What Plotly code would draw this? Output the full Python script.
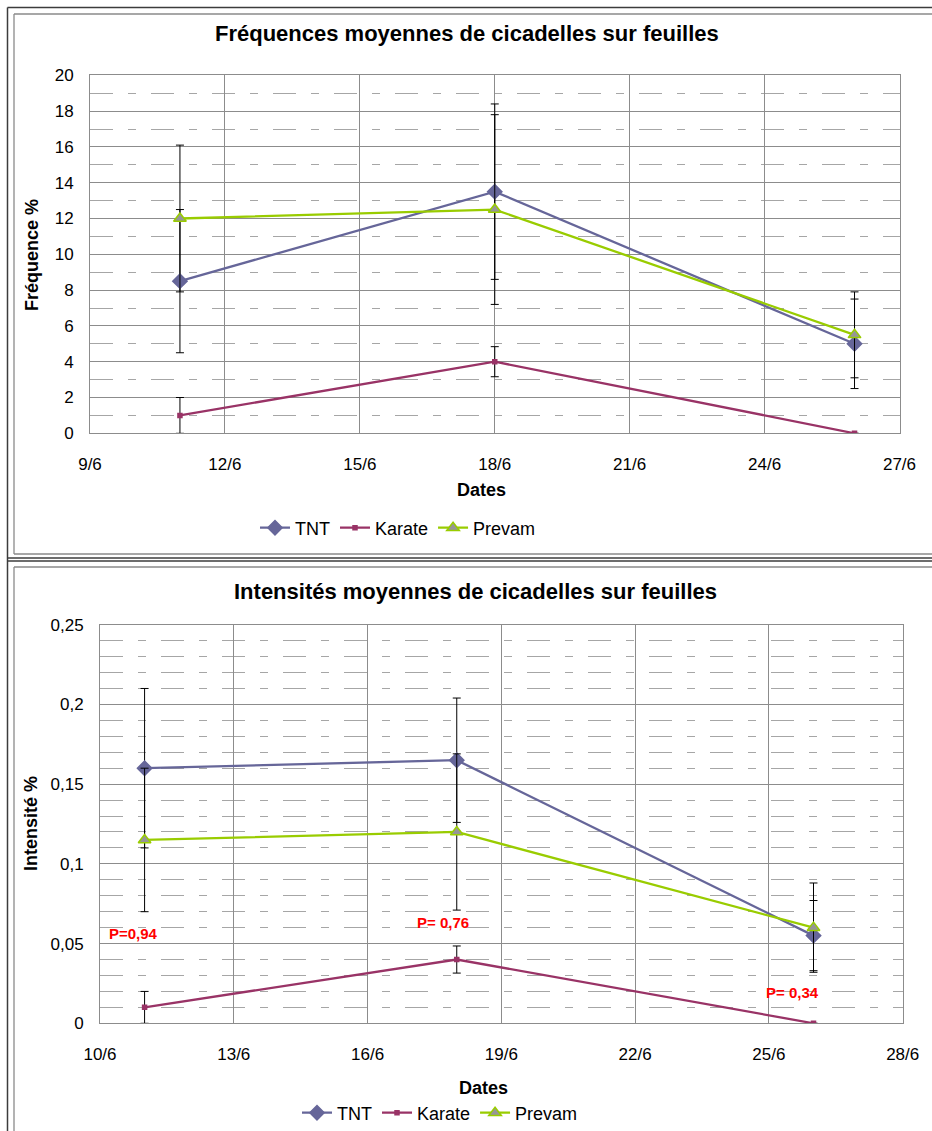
import plotly.graph_objects as go

# ---------------- data ----------------
dates = ["2010-06-11", "2010-06-18", "2010-06-26"]
series_names = ["TNT", "Karate", "Prevam"]

freq_tnt = [8.5, 13.5, 5.0]
freq_tnt_err = [4.0, 4.9, 2.5]
freq_karate = [1.0, 4.0, 0.0]
freq_karate_err = [1.0, 0.84, 0.0]
freq_prevam = [12.0, 12.5, 5.5]
freq_prevam_err = [4.1, 5.3, 2.4]

int_tnt = [0.16, 0.165, 0.055]
int_tnt_err = [0.05, 0.039, 0.022]
int_karate = [0.01, 0.04, 0.0]
int_karate_err = [0.01, 0.0085, 0.0]
int_prevam = [0.115, 0.12, 0.06]
int_prevam_err = [0.045, 0.049, 0.028]

p_labels = ["P=0,94", "P= 0,76", "P= 0,34"]

title_top = "Fréquences moyennes de cicadelles sur feuilles"
title_bottom = "Intensités moyennes de cicadelles sur feuilles"
ytitle_top = "Fréquence %"
ytitle_bottom = "Intensité %"
xtitle = "Dates"

# ---------------- styles ----------------
W, H = 932, 1131
FONT = "Liberation Sans, Arial, sans-serif"
styles = {
    "TNT": dict(color="#666699", symbol="diamond", size=11, mfill="#666699", mline="#666699"),
    "Karate": dict(color="#993366", symbol="square", size=4, mfill="#993366", mline="#993366"),
    "Prevam": dict(color="#99CC00", symbol="triangle-up", size=11, mfill="#969696", mline="#99CC00"),
}

def px(x):
    return x / W

def py(y):
    return 1 - y / H

fig = go.Figure()

def add_series(name, xs, ys, errs, xa, ya, legend):
    s = styles[name]
    fig.add_trace(go.Scatter(
        x=xs, y=ys, name=name, mode="lines+markers",
        xaxis=xa, yaxis=ya, legend=legend,
        line=dict(color=s["color"], width=2.3),
        marker=dict(symbol=s["symbol"], size=s["size"], color=s["mfill"],
                    line=dict(color=s["mline"], width=1.5)),
        error_y=dict(type="data", array=errs, visible=True, color="black",
                     thickness=1, width=4),
    ))

add_series("TNT", dates, freq_tnt, freq_tnt_err, "x", "y", "legend")
add_series("Karate", dates, freq_karate, freq_karate_err, "x", "y", "legend")
add_series("Prevam", dates, freq_prevam, freq_prevam_err, "x", "y", "legend")
add_series("TNT", dates, int_tnt, int_tnt_err, "x2", "y2", "legend2")
add_series("Karate", dates, int_karate, int_karate_err, "x2", "y2", "legend2")
add_series("Prevam", dates, int_prevam, int_prevam_err, "x2", "y2", "legend2")

GRID = "#8c8c8c"
MINOR = "#a6a6a6"
DASH = "23px,15px,8px,15px"
tickfont = dict(family=FONT, size=17, color="black")

def xaxis_cfg(domain, anchor, start, end):
    return dict(
        domain=domain, anchor=anchor, type="date",
        range=[start, end], tick0=start, dtick=3 * 86400000,
        tickformat="%-d/%-m", showgrid=True, gridcolor=GRID, gridwidth=1,
        showline=True, linecolor=GRID, linewidth=1, mirror=True,
        ticks="outside", ticklen=15, tickcolor="rgba(0,0,0,0)",
        tickfont=tickfont, zeroline=False, fixedrange=True, automargin=False,
    )

def yaxis_cfg(domain, anchor, rng, dtick, minor_dtick):
    return dict(
        domain=domain, anchor=anchor, range=rng, dtick=dtick, tick0=0,
        showgrid=True, gridcolor=GRID, gridwidth=1,
        showline=True, linecolor=GRID, linewidth=1, mirror=True,
        ticks="outside", ticklen=12, tickcolor="rgba(0,0,0,0)",
        tickfont=tickfont, zeroline=False, fixedrange=True, automargin=False,
        minor=dict(dtick=minor_dtick, tick0=0, showgrid=True, gridcolor=MINOR,
                   griddash=DASH, gridwidth=1, ticks=""),
    )

annotations = [
    dict(text="<b>%s</b>" % title_top, x=px(467), y=py(34), size=22),
    dict(text="<b>%s</b>" % title_bottom, x=px(475), y=py(591), size=22),
    dict(text="<b>%s</b>" % ytitle_top, x=px(32), y=py(255), textangle=-90, size=18),
    dict(text="<b>%s</b>" % ytitle_bottom, x=px(31), y=py(824), textangle=-90, size=18),
    dict(text="<b>%s</b>" % xtitle, x=px(481), y=py(490), size=18),
    dict(text="<b>%s</b>" % xtitle, x=px(484), y=py(1088), size=18),
]
for a in annotations:
    sz = a.pop("size")
    a.update(xref="paper", yref="paper", showarrow=False, xanchor="center", yanchor="middle",
             font=dict(family=FONT, size=sz, color="black"))

p_pos = [(133, 933), (443, 922), (792, 992)]
for lab, (xx, yy) in zip(p_labels, p_pos):
    annotations.append(dict(text="<b>%s</b>" % lab, x=px(xx), y=py(yy), xref="paper", yref="paper",
                            showarrow=False, xanchor="center", yanchor="middle",
                            font=dict(family=FONT, size=15, color="#ff0000")))

def line(x0, y0, x1, y1, color, width):
    return dict(type="line", xref="paper", yref="paper", x0=px(x0), y0=py(y0),
                x1=px(x1), y1=py(y1), line=dict(color=color, width=width), layer="above")

DARK = "#3c3c3c"
GRAYB = "#8a8a8a"
shapes = [
    line(7.5, 7.5, 7.5, H, DARK, 1.5),
    line(7.5, 7.5, W, 7.5, DARK, 1.5),
    line(7.5, 558, W, 558, DARK, 1.5),
    line(7.5, 561, W, 561, DARK, 1.5),
    line(14, 14, 14, 554, GRAYB, 1.3),
    line(14, 14, W, 14, GRAYB, 1.3),
    line(14, 554, W, 554, GRAYB, 1.3),
    line(14, 567, W, 567, GRAYB, 1.3),
    line(14, 567, 14, H, GRAYB, 1.3),
]

legend_common = dict(orientation="h", xanchor="center", yanchor="middle",
                     font=dict(family=FONT, size=18, color="black"),
                     bgcolor="rgba(0,0,0,0)", itemwidth=30, tracegroupgap=0)

fig.update_layout(
    width=W, height=H, autosize=False,
    margin=dict(l=0, r=0, t=0, b=0, pad=0, autoexpand=False),
    paper_bgcolor="white", plot_bgcolor="white",
    font=dict(family=FONT, color="black"),
    separators=", ",
    showlegend=True,
    xaxis=xaxis_cfg([px(90), px(899.5)], "y", "2010-06-09", "2010-06-27"),
    yaxis=yaxis_cfg([py(433.3), py(75.3)], "x", [0, 20], 2, 1),
    xaxis2=xaxis_cfg([px(100), px(902.7)], "y2", "2010-06-10", "2010-06-28"),
    yaxis2=yaxis_cfg([py(1023.3), py(624.7)], "x2", [0, 0.25], 0.05, 0.01),
    legend=dict(x=px(398), y=py(528), **legend_common),
    legend2=dict(x=px(440), y=py(1113), **legend_common),
    annotations=annotations,
    shapes=shapes,
)

fig.write_html("out.html", config={"displayModeBar": False},
               post_script="document.body.style.margin='0';document.body.style.overflow='hidden';")
